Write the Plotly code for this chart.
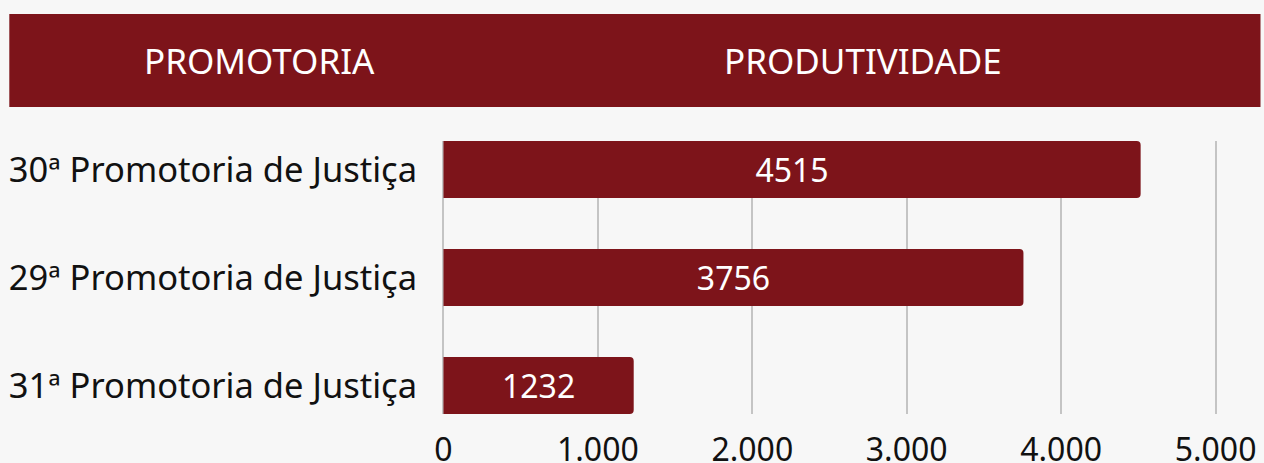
import plotly.graph_objects as go

categories = ["30ª Promotoria de Justiça", "29ª Promotoria de Justiça", "31ª Promotoria de Justiça"]
values = [4515, 3756, 1232]
tick_vals = [0, 1000, 2000, 3000, 4000, 5000]
tick_text = ["0", "1.000", "2.000", "3.000", "4.000", "5.000"]
header_left = "PROMOTORIA"
header_right = "PRODUTIVIDADE"

RED = "#7d141a"
BG = "#f7f7f7"
FONT = "Noto Sans"

fig = go.Figure()
fig.add_trace(go.Bar(
    y=categories, x=values, orientation="h",
    marker=dict(color=RED, cornerradius=4, line=dict(width=0)),
    width=0.528,
    text=[str(v) for v in values],
    textposition="inside", insidetextanchor="middle",
    textfont=dict(family=FONT, size=32, color="white"),
    hoverinfo="skip",
))

# plot area: x 441 -> 1218.5 px, y 141 -> 414 px
fig.update_layout(
    width=1264, height=463,
    paper_bgcolor=BG, plot_bgcolor=BG,
    margin=dict(l=441, r=45.5, t=141, b=49, pad=0, autoexpand=False),
    showlegend=False,
    font=dict(family=FONT, color="#111111"),
    xaxis=dict(range=[-16, 5016], tickvals=tick_vals, ticktext=tick_text,
               showgrid=True, gridcolor="#c4c4c4", gridwidth=2,
               zeroline=False, showline=False, ticks="", automargin=False,
               tickfont=dict(family=FONT, size=32, color="#111111"),
               ticklabelstandoff=14, fixedrange=True),
    yaxis=dict(categoryorder="array", categoryarray=categories,
               range=[2.264, -0.264], showgrid=False, zeroline=False,
               showline=False, ticks="", automargin=False,
               tickfont=dict(family=FONT, size=34.5, color="#111111"),
               ticklabelstandoff=23, fixedrange=True),
    shapes=[dict(type="rect", xref="paper", yref="paper",
                 x0=-0.5556, x1=1.0547, y0=1.1245, y1=1.465,
                 fillcolor=RED, line=dict(width=0), layer="below")],
    annotations=[
        dict(text=header_left, xref="paper", yref="paper", x=-0.2341, y=1.2967,
             xanchor="center", yanchor="middle", showarrow=False,
             font=dict(family=FONT, size=35, color="white")),
        dict(text=header_right, xref="paper", yref="paper", x=0.5428, y=1.2967,
             xanchor="center", yanchor="middle", showarrow=False,
             font=dict(family=FONT, size=35, color="white")),
    ],
)

fig.write_html(
    "out.html",
    config={"displayModeBar": False},
    post_script="document.body.style.margin='0';document.body.style.background='#f7f7f7';document.body.style.overflow='hidden';",
)
